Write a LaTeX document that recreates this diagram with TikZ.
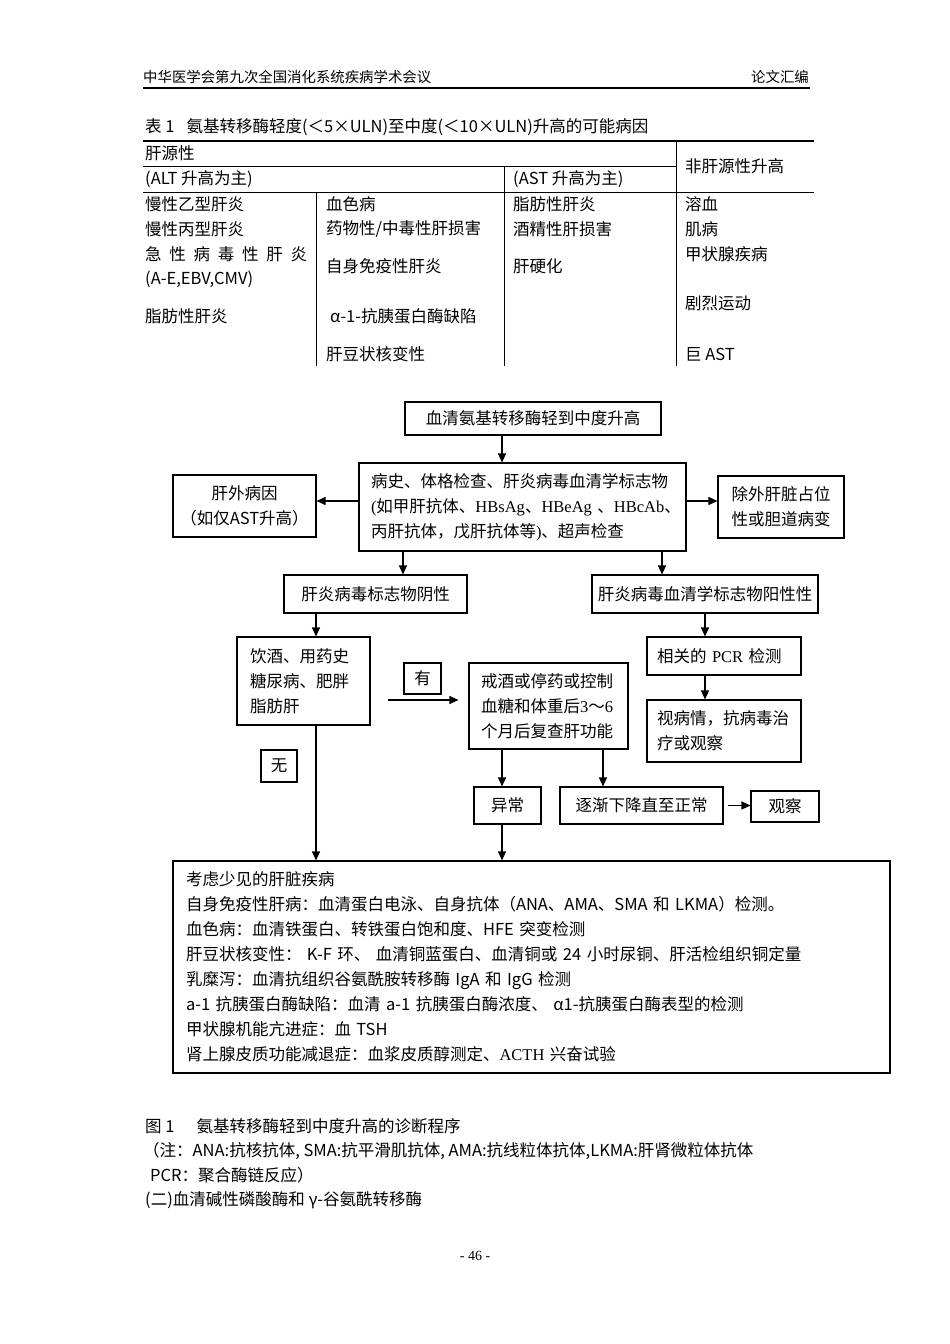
\documentclass[tikz,border=0pt]{standalone}
\usepackage{fontspec}
\setmainfont{Liberation Serif}
\newfontfamily\cjk{Noto Sans CJK SC}
\newcommand\lat[1]{{\rmfamily #1}}
\usetikzlibrary{arrows.meta}

\begin{document}
\begin{tikzpicture}[
        x=1pt, y=-1pt,
        font=\cjk\fontsize{16.5}{25}\selectfont,
        box/.style={
            rectangle,
            draw,
            line width=1.1pt,
            align=center
        },
        leftbox/.style={
            box,
            align=left,
            inner xsep=12pt
        },
        tagbox/.style={
            box,
            inner sep=0pt,
            minimum width=37pt,
            minimum height=31pt
        },
        cell/.style={anchor=west, inner sep=0pt},
        rule/.style={line width=0.8pt},
        arr/.style={-{Triangle[length=9pt,width=8pt]}, line width=1.1pt}
    ]

    % page
    \fill[white] (0,0) rectangle (950,1344);
    \useasboundingbox (0,0) rectangle (950,1344);

    % ---------- Running head ----------
    \node[cell, font=\cjk\fontsize{14.4}{18}\selectfont] (runhead) at (143,77) {中华医学会第九次全国消化系统疾病学术会议};
    \node[cell, anchor=east, font=\cjk\fontsize{14.4}{18}\selectfont] (runtitle) at (809,77) {论文汇编};
    \draw[line width=1.2pt] (143,88) -- (810,88);

    % ---------- Table 1 ----------
    \node[cell] (tabcap) at (145,127) {表 1\hspace{12pt}氨基转移酶轻度(＜5×ULN)至中度(＜10×ULN)升高的可能病因};

    \draw[line width=1.2pt] (143,141) -- (814,141);
    \draw[rule] (143,166) -- (676,166);
    \draw[rule] (143,192) -- (814,192);
    \draw[rule] (316,192) -- (316,366);
    \draw[rule] (504,166) -- (504,366);
    \draw[rule] (676,141) -- (676,366);

    \node[cell] (hephead)  at (145,153) {肝源性};
    \node[cell] (nonhead)  at (685,166) {非肝源性升高};
    \node[cell] (althead)  at (145,179) {(ALT 升高为主)};
    \node[cell] (asthead)  at (513,179) {(AST 升高为主)};

    \node[cell] (hbv)      at (145,204) {慢性乙型肝炎};
    \node[cell] (hcv)      at (145,229) {慢性丙型肝炎};
    \node[cell] (acute)    at (145,254) {\makebox[162pt][l]{急\hfill 性\hfill 病\hfill 毒\hfill 性\hfill 肝\hfill 炎}};
    \node[cell] (viruses)  at (145,279) {(A-E,EBV,CMV)};
    \node[cell] (fattyA)   at (145,316) {脂肪性肝炎};

    \node[cell] (haemo)    at (326,204) {血色病};
    \node[cell] (drug)     at (326,229) {药物性/中毒性肝损害};
    \node[cell] (aih)      at (326,266) {自身免疫性肝炎};
    \node[cell] (alpha)    at (330,316) {α-1-抗胰蛋白酶缺陷};
    \node[cell] (wilson)   at (326,354) {肝豆状核变性};

    \node[cell] (fattyB)   at (513,204) {脂肪性肝炎};
    \node[cell] (alcohol)  at (513,229) {酒精性肝损害};
    \node[cell] (cirr)     at (513,266) {肝硬化};

    \node[cell] (hemol)    at (685,204) {溶血};
    \node[cell] (muscle)   at (685,229) {肌病};
    \node[cell] (thyroid)  at (685,254) {甲状腺疾病};
    \node[cell] (exercise) at (685,303) {剧烈运动};
    \node[cell] (macro)    at (685,354) {巨 AST};

    % ---------- Figure 1: flowchart ----------
    \node[box, minimum width=256pt, minimum height=33pt] (start) at (533,418.5) {血清氨基转移酶轻到中度升高};

    \node[leftbox, text width=303pt, minimum height=88pt] (exam) at (522.5,507)
        {\mbox{病史、体格检查、肝炎病毒血清学标志物}\\
         \mbox{\lat{(}如甲肝抗体、\lat{HBsAg}、\lat{HBeAg} 、\lat{HBcAb}、}\\
         \mbox{丙肝抗体，戊肝抗体等\lat{)}、超声检查}};

    \node[box, minimum width=143pt, minimum height=62pt] (extra) at (244.5,506) {肝外病因\\（如仅AST升高）};
    \node[box, minimum width=126pt, minimum height=62pt] (mass)  at (781,507)   {除外肝脏占位\\性或胆道病变};

    \node[box, minimum width=183pt, minimum height=38pt] (neg) at (375.5,594) {肝炎病毒标志物阴性};
    \node[box, minimum width=226pt, minimum height=38pt] (pos) at (705,594)   {肝炎病毒血清学标志物阳性性};

    \node[leftbox, inner xsep=13pt, text width=107pt, minimum height=88pt] (risk) at (303.5,681)
        {饮酒、用药史\\糖尿病、肥胖\\脂肪肝};
    \node[leftbox, text width=135pt, minimum height=86pt] (stop) at (548.5,706)
        {戒酒或停药或控制\\血糖和体重后\lat{3}～\lat{6}\\个月后复查肝功能};

    \node[leftbox, inner xsep=10pt, text width=134pt, minimum height=38pt] (pcr)  at (724,656) {相关的 \lat{PCR} 检测};
    \node[leftbox, inner xsep=10pt, text width=134pt, minimum height=62pt] (view) at (724,731) {视病情，抗病毒治\\疗或观察};

    \node[tagbox] (yes) at (422.5,678.5) {有};
    \node[tagbox, minimum width=36pt, minimum height=32pt] (no) at (279,766) {无};

    \node[box, minimum width=67pt,  minimum height=37pt] (abn)  at (507.5,805.5) {异常};
    \node[box, minimum width=163pt, minimum height=37pt] (down) at (641.5,805.5) {逐渐下降直至正常};
    \node[box, minimum width=68pt,  minimum height=31pt] (obs)  at (785,806.5)   {观察};

    \node[leftbox, inner xsep=13pt, text width=691pt, minimum height=212pt] (rare) at (531.5,967)
        {考虑少见的肝脏疾病\\
         自身免疫性肝病：血清蛋白电泳、自身抗体（ANA、AMA、SMA 和 LKMA）检测。\\
         血色病：血清铁蛋白、转铁蛋白饱和度、HFE 突变检测\\
         肝豆状核变性： K-F 环、 血清铜蓝蛋白、血清铜或 24 小时尿铜、肝活检组织铜定量\\
         乳糜泻：血清抗组织谷氨酰胺转移酶 IgA 和 IgG 检测\\
         a-1 抗胰蛋白酶缺陷：血清 a-1 抗胰蛋白酶浓度、 α1-抗胰蛋白酶表型的检测\\
         甲状腺机能亢进症：血 TSH\\
         肾上腺皮质功能减退症：血浆皮质醇测定、\lat{ACTH} 兴奋试验};

    \coordinate (yesfrom) at (388,700);

    \draw[arr] ([xshift=-31pt]start.south) -- ([xshift=-31pt]start.south |- exam.north);
    \draw[arr] ([yshift=6pt]exam.west) -- ([yshift=6pt]exam.west -| extra.east);
    \draw[arr] ([yshift=6pt]exam.east) -- ([yshift=6pt]exam.east -| mass.west);
    \draw[arr] ([xshift=-119.5pt]exam.south) -- ([xshift=-119.5pt]exam.south |- neg.north);
    \draw[arr] ([xshift=139.5pt]exam.south) -- ([xshift=139.5pt]exam.south |- pos.north);
    \draw[arr] ([xshift=-59.5pt]neg.south) -- ([xshift=-59.5pt]neg.south |- risk.north);
    \draw[arr] (pos.south) -- (pos.south |- pcr.north);
    \draw[arr] (pos.south |- pcr.south) -- (pos.south |- view.north);
    \draw[arr] (yesfrom) -- ([xshift=-10pt]yesfrom -| stop.west);
    \draw[arr] ([xshift=12.5pt]risk.south) -- ([xshift=12.5pt]risk.south |- rare.north);
    \draw[arr] ([xshift=-5.5pt]abn.north |- stop.south) -- ([xshift=-5.5pt]abn.north);
    \draw[arr] ([xshift=54.5pt]stop.south) -- ([xshift=54.5pt]stop.south |- down.north);
    \draw[arr] ([xshift=4pt]down.east) -- (obs.west |- down.east);
    \draw[arr] ([xshift=-5.5pt]abn.south) -- ([xshift=-5.5pt]abn.south |- rare.north);

    % ---------- Caption and notes ----------
    \node[cell] (figcap) at (145,1126) {图 1\hspace{22pt}氨基转移酶轻到中度升高的诊断程序};
    \node[cell] (note)   at (143,1151) {（注：ANA:抗核抗体, SMA:抗平滑肌抗体, AMA:抗线粒体抗体,LKMA:肝肾微粒体抗体};
    \node[cell] (notepcr) at (150,1175) {PCR：聚合酶链反应）};
    \node[cell] (section) at (145,1200) {(二)血清碱性磷酸酶和 γ-谷氨酰转移酶};

    \node[font=\rmfamily\fontsize{14}{16}\selectfont] (pageno) at (475,1256) {- 46 -};

\end{tikzpicture}
\end{document}
